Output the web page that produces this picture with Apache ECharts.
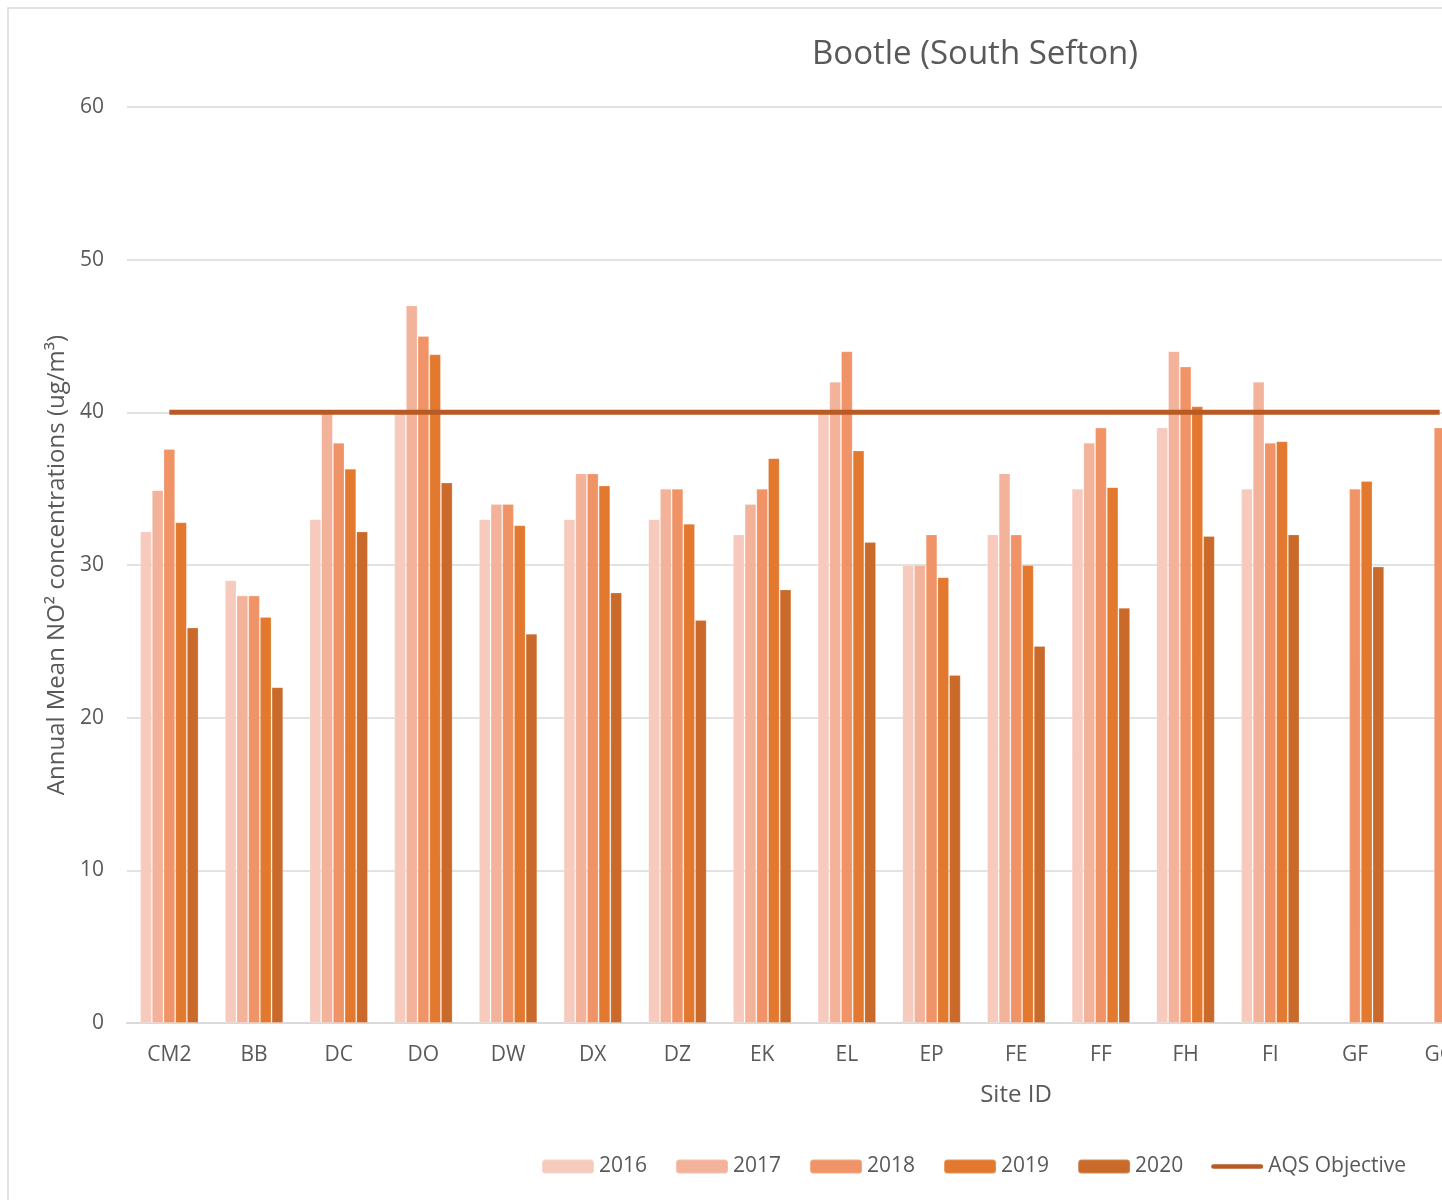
<!DOCTYPE html>
<html lang="en">
<head>
    <meta charset="UTF-8">
    <title>Bootle (South Sefton)</title>
    <script src="https://cdn.jsdelivr.net/npm/echarts@6/dist/echarts.min.js"></script>
    <style>
        html, body { margin: 0; padding: 0; overflow: hidden; background: #fff; }
        #chart { width: 1500px; height: 1200px; }
    </style>
</head>
<body>
    <div id="chart"></div>
    <script>
        // site IDs (last one is cut off at the right edge in the original)
        const sites = ['CM2', 'BB', 'DC', 'DO', 'DW', 'DX', 'DZ', 'EK', 'EL', 'EP', 'FE', 'FF', 'FH', 'FI', 'GF', 'GG'];
        const y2016 = [32.2, 29.0, 33.0, 40.0, 33.0, 33.0, 33.0, 32.0, 40.0, 30.0, 32.0, 35.0, 39.0, 35.0, null, null];
        const y2017 = [34.9, 28.0, 40.0, 47.0, 34.0, 36.0, 35.0, 34.0, 42.0, 30.0, 36.0, 38.0, 44.0, 42.0, null, null];
        const y2018 = [37.6, 28.0, 38.0, 45.0, 34.0, 36.0, 35.0, 35.0, 44.0, 32.0, 32.0, 39.0, 43.0, 38.0, 35.0, 39.0];
        const y2019 = [32.8, 26.6, 36.3, 43.8, 32.6, 35.2, 32.7, 37.0, 37.5, 29.2, 30.0, 35.1, 40.4, 38.1, 35.5, null];
        const y2020 = [25.9, 22.0, 32.2, 35.4, 25.5, 28.2, 26.4, 28.4, 31.5, 22.8, 24.7, 27.2, 31.9, 32.0, 29.9, null];
        const aqs = [40, 40, 40, 40, 40, 40, 40, 40, 40, 40, 40, 40, 40, 40, 40, 40];
        const yTicks = { min: 0, max: 60, interval: 10 };

        const font = 'Open Sans';
        const grey = '#595959';

        function bar(name, data, color) {
            return {
                name: name,
                type: 'bar',
                data: data,
                barGap: 0,
                barCategoryGap: '31%',
                itemStyle: { color: color, borderColor: 'rgba(255,255,255,0.2)', borderWidth: 1 },
                emphasis: { disabled: true }
            };
        }

        const chart = echarts.init(document.getElementById('chart'));
        chart.setOption({
            animation: false,
            textStyle: { fontFamily: font },
            grid: { left: 127, right: 18, top: 107, bottom: 177 },
            graphic: [
                {
                    type: 'rect',
                    shape: { x: 8, y: 8, width: 2000, height: 1400 },
                    style: { fill: 'none', stroke: '#d9d9d9', lineWidth: 1.5 },
                    silent: true
                },
                {
                    type: 'text',
                    style: {
                        x: 975, y: 55, text: 'Bootle (South Sefton)',
                        textAlign: 'center', textVerticalAlign: 'middle',
                        font: '33px "Open Sans"', fill: grey
                    }
                },
                {
                    type: 'text',
                    style: {
                        x: 1016, y: 1095, text: 'Site ID',
                        textAlign: 'center', textVerticalAlign: 'middle',
                        font: '24px "Open Sans"', fill: grey
                    }
                }
            ],
            legend: {
                left: 541,
                top: 1156,
                padding: 0,
                itemWidth: 52,
                itemHeight: 14,
                itemGap: 28,
                textStyle: { fontSize: 21, color: grey, fontFamily: font },
                data: [
                    '2016', '2017', '2018', '2019', '2020',
                    {
                        name: 'AQS Objective',
                        icon: 'path://M2.5,0 L52.5,0 A2.5,2.5 0 0 1 52.5,5 L2.5,5 A2.5,2.5 0 0 1 2.5,0 Z'
                    }
                ]
            },
            xAxis: {
                type: 'category',
                data: sites,
                axisLine: { lineStyle: { color: '#d9d9d9', width: 2 } },
                axisTick: { show: false },
                axisLabel: { fontSize: 21, color: grey, margin: 22 }
            },
            yAxis: {
                type: 'value',
                min: yTicks.min,
                max: yTicks.max,
                interval: yTicks.interval,
                name: 'Annual Mean NO\u00B2 concentrations (ug/m\u00B3)',
                nameLocation: 'middle',
                nameGap: 58,
                nameTextStyle: { fontSize: 24, color: grey },
                axisLine: { show: false },
                axisTick: { show: false },
                axisLabel: { fontSize: 21, color: grey, margin: 23 },
                splitLine: { lineStyle: { color: '#d9d9d9', width: 1.5 } }
            },
            series: [
                bar('2016', y2016, '#F6CBBD'),
                bar('2017', y2017, '#F3B29A'),
                bar('2018', y2018, '#F09467'),
                bar('2019', y2019, '#E2792F'),
                bar('2020', y2020, '#C96A2A'),
                {
                    name: 'AQS Objective',
                    type: 'line',
                    data: aqs,
                    symbol: 'none',
                    z: 5,
                    lineStyle: { color: '#B85A24', width: 5 },
                    itemStyle: { color: '#B85A24' },
                    emphasis: { disabled: true }
                }
            ]
        });
    </script>
</body>
</html>
